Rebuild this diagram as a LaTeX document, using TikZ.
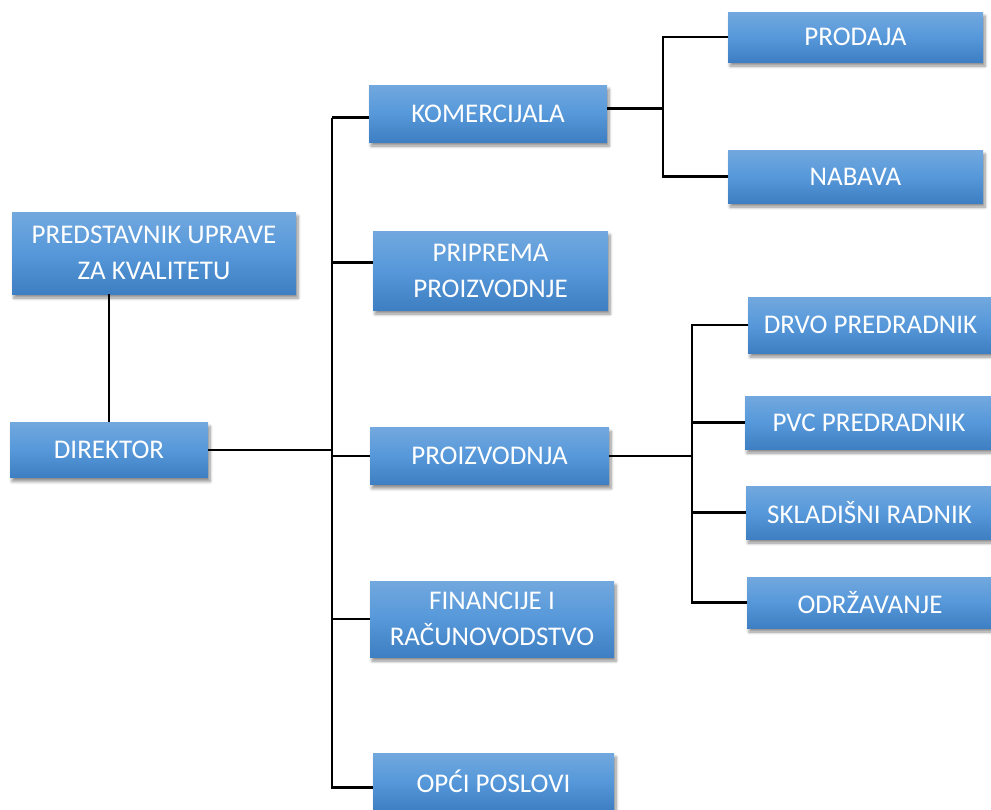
\documentclass[tikz,border=0pt]{standalone}
\usepackage{fontspec}
\setmainfont{Carlito}
\usetikzlibrary{shadows.blur}
\definecolor{boxtop}{RGB}{114,168,222}
\definecolor{boxmid}{RGB}{86,152,218}
\definecolor{boxbot}{RGB}{62,126,194}
\tikzset{
  orgbox/.style={rectangle, top color=boxtop, bottom color=boxbot, middle color=boxmid,
    text=white, align=center, inner sep=0pt,
    font=\fontsize{27}{36}\selectfont,
    blur shadow={shadow xshift=2pt, shadow yshift=-4pt, shadow blur steps=6, shadow blur radius=3pt, shadow opacity=45}},
  link/.style={line width=2.7pt, black}
}
\begin{document}
\begin{tikzpicture}[x=1pt, y=-1pt]
\useasboundingbox (0,0) rectangle (991,809);
\node[orgbox, minimum width=284pt, minimum height=82pt] (pred) at (154,253) {PREDSTAVNIK UPRAVE\\ZA KVALITETU};
\node[orgbox, minimum width=198pt, minimum height=55pt] (dir) at (109,450) {DIREKTOR};
\node[orgbox, minimum width=238pt, minimum height=57pt] (kom) at (488,113.5) {KOMERCIJALA};
\node[orgbox, minimum width=235pt, minimum height=79pt] (prip) at (490.5,270.5) {PRIPREMA\\PROIZVODNJE};
\node[orgbox, minimum width=239pt, minimum height=57pt] (proiz) at (489.5,456) {PROIZVODNJA};
\node[orgbox, minimum width=244pt, minimum height=76pt] (fin) at (492,619) {FINANCIJE I\\RAČUNOVODSTVO};
\node[orgbox, minimum width=241pt, minimum height=57pt] (opci) at (493.5,781.5) {OPĆI POSLOVI};
\node[orgbox, minimum width=255pt, minimum height=50pt] (prod) at (855.5,37) {PRODAJA};
\node[orgbox, minimum width=255pt, minimum height=53pt] (nab) at (855.5,176.5) {NABAVA};
\node[orgbox, minimum width=245pt, minimum height=56pt] (drvo) at (870.5,325) {DRVO PREDRADNIK};
\node[orgbox, minimum width=248pt, minimum height=53pt] (pvc) at (869,422.5) {PVC PREDRADNIK};
\node[orgbox, minimum width=247pt, minimum height=53pt] (skl) at (869.5,512.5) {SKLADIŠNI RADNIK};
\node[orgbox, minimum width=246pt, minimum height=51pt] (odr) at (870,602.5) {ODRŽAVANJE};
\coordinate (tx) at (332,0);
\coordinate (kx) at (663,0);
\coordinate (px) at (692,0);
% director links
\draw[link] (dir.north) -- (dir.north |- pred.south);
\draw[link] (dir.east) -- (dir.east -| tx);
% main trunk
\draw[link] ([yshift=-4pt]kom.west -| tx) -- ([yshift=-4pt]kom.west);
\draw[link] ([yshift=-4pt]kom.west -| tx) -- ([yshift=-6pt]opci.west -| tx) -- ([yshift=-6pt]opci.west);
\draw[link] ([yshift=8pt]prip.west -| tx) -- ([yshift=8pt]prip.west);
\draw[link] (proiz.west -| tx) -- (proiz.west);
\draw[link] (fin.west -| tx) -- (fin.west);
% komercijala branch
\draw[link] ([yshift=5pt]kom.east) -- ([yshift=5pt]kom.east -| kx);
\draw[link] (prod.west) -- (prod.west -| kx) -- (nab.west -| kx) -- (nab.west);
% proizvodnja branch
\draw[link] (proiz.east) -- (proiz.east -| px);
\draw[link] (drvo.west) -- (drvo.west -| px) -- (odr.west -| px) -- (odr.west);
\draw[link] (pvc.west -| px) -- (pvc.west);
\draw[link] (skl.west -| px) -- (skl.west);
\end{tikzpicture}
\end{document}
